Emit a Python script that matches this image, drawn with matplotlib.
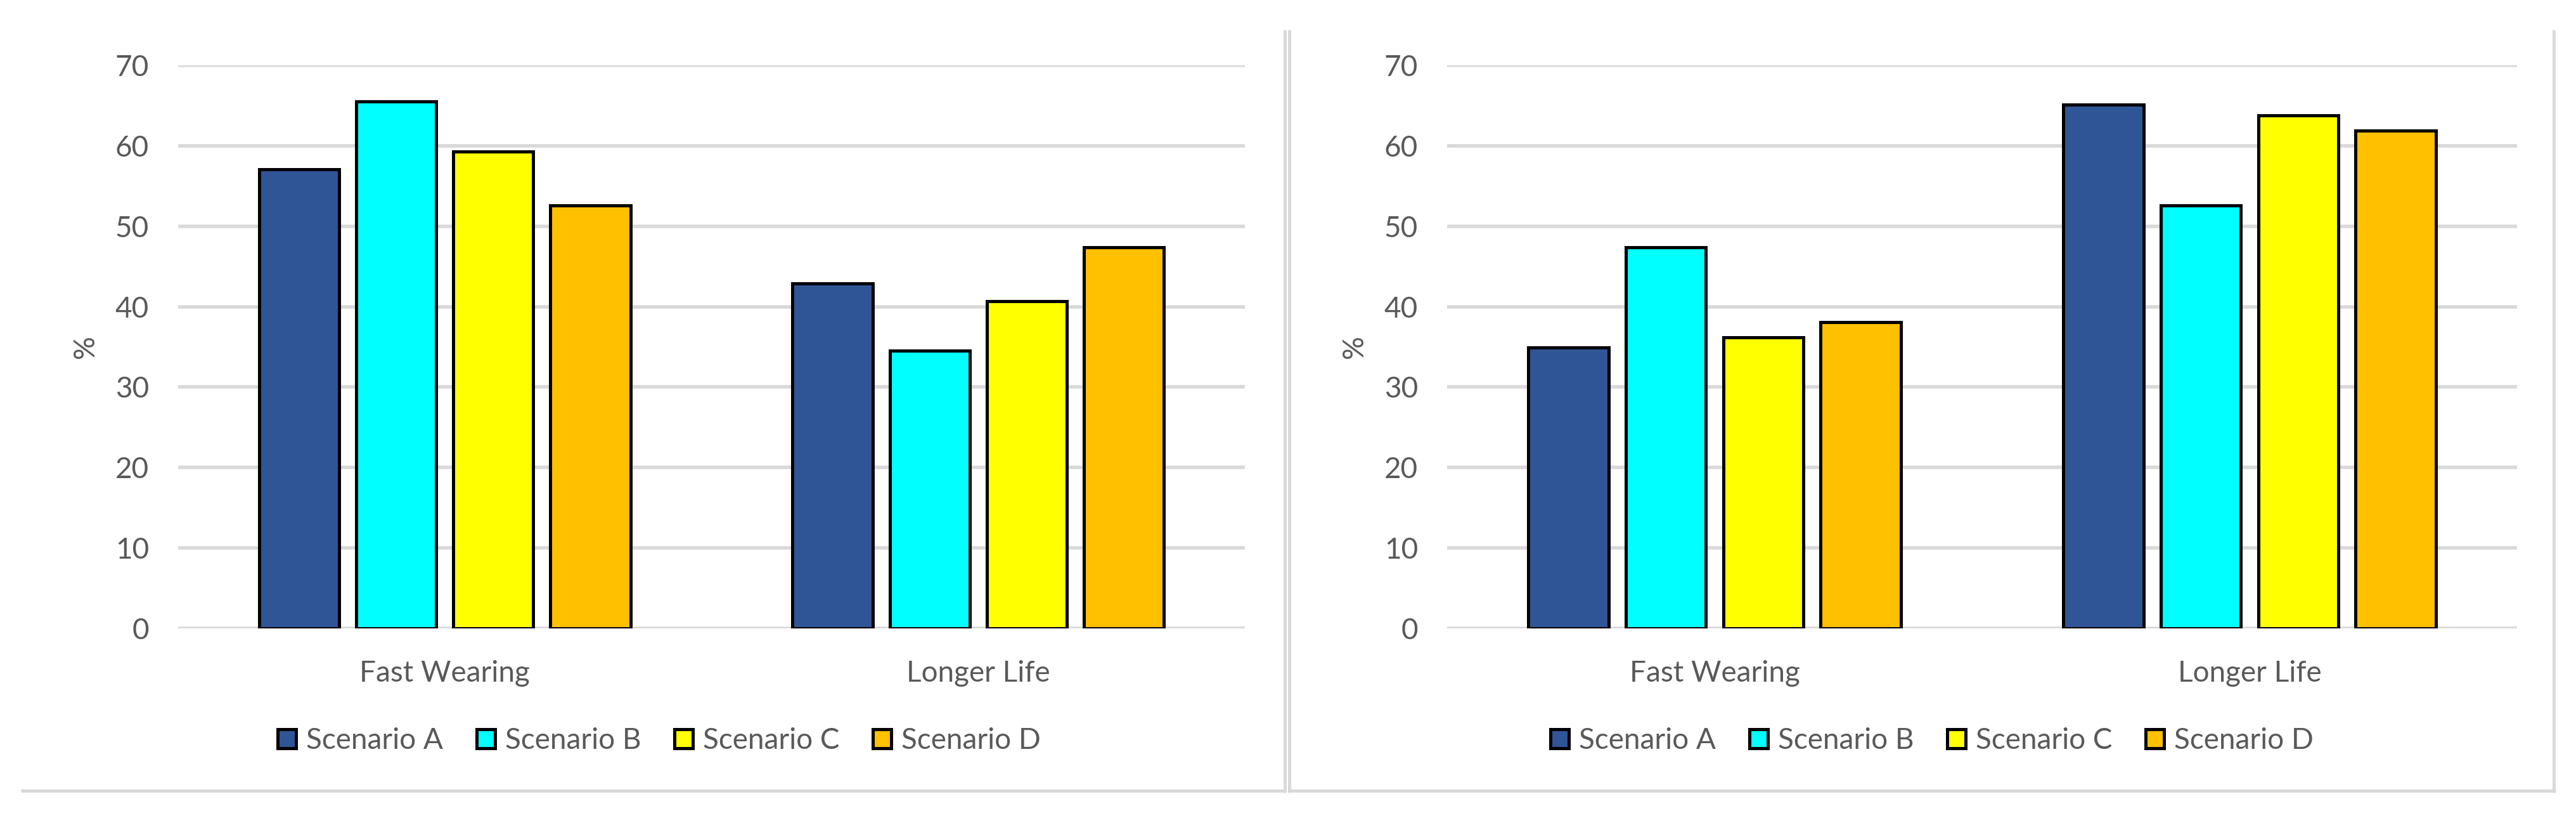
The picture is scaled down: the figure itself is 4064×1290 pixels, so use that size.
import matplotlib
matplotlib.use("Agg")
import matplotlib.pyplot as plt
import numpy as np
from matplotlib.lines import Line2D

plt.rcParams['font.family'] = ['Lato', 'DejaVu Sans']

# data (percent)
categories = ["Fast Wearing", "Longer Life"]
scenarios = ["Scenario A", "Scenario B", "Scenario C", "Scenario D"]
colors = ["#2F5597", "#00FFFF", "#FFFF00", "#FFC000"]

left_a = [57.1, 42.9]
left_b = [65.5, 34.5]
left_c = [59.3, 40.7]
left_d = [52.6, 47.4]

right_a = [34.9, 65.1]
right_b = [47.4, 52.6]
right_c = [36.2, 63.8]
right_d = [38.1, 61.9]

W, H = 4064, 1290
fig = plt.figure(figsize=(W / 100, H / 100), dpi=100)

txt_col = "#595959"
grid_col = "#D9D9D9"
fs = 33


def px(x, y):
    return x / W, 1 - y / H


def draw_panel(ax, series):
    x = np.arange(len(categories))
    width = 0.15
    step = 0.182
    for i, (vals, col, name) in enumerate(zip(series, colors, scenarios)):
        off = (i - 1.5) * step
        ax.bar(x + off, vals, width, color=col, edgecolor="black",
               linewidth=3.6, label=name, zorder=3)
    ax.set_xlim(-0.5, 1.5)
    ax.set_ylim(0, 70)
    ax.set_yticks(range(0, 71, 10))
    ax.set_xticks(x)
    ax.set_xticklabels(categories)
    ax.tick_params(axis="both", length=0, labelsize=fs, labelcolor=txt_col)
    ax.tick_params(axis="y", pad=33)
    ax.tick_params(axis="x", pad=36)
    ax.grid(axis="y", color=grid_col, linewidth=4)
    ax.set_axisbelow(True)
    for s in ax.spines.values():
        s.set_visible(False)
    ax.set_ylabel("%", fontsize=fs, color=txt_col)
    ax.yaxis.set_label_coords(-0.074, 0.5)


ax1 = fig.add_axes([281 / W, 1 - 991 / H, 1683 / W, 888 / H])
ax2 = fig.add_axes([2283 / W, 1 - 991 / H, 1688 / W, 888 / H])
draw_panel(ax1, [left_a, left_b, left_c, left_d])
draw_panel(ax2, [right_a, right_b, right_c, right_d])

for ax, cx in [(ax1, 1040), (ax2, 3048)]:
    h, l = ax.get_legend_handles_labels()
    leg = fig.legend(h, l, loc="center", bbox_to_anchor=px(cx, 1168),
                     ncol=4, frameon=False, fontsize=fs,
                     handlelength=0.63, handleheight=0.65,
                     handletextpad=0.35, columnspacing=1.15, borderpad=0)
    for t in leg.get_texts():
        t.set_color(txt_col)

# panel borders (right and bottom edges only)
border = dict(color=grid_col, linewidth=3.6, solid_capstyle="butt")
fig.add_artist(Line2D(*zip(px(2026.5, 47), px(2026.5, 1250)), **border))
fig.add_artist(Line2D(*zip(px(33, 1247), px(2029, 1247)), **border))
fig.add_artist(Line2D(*zip(px(2034, 47), px(2034, 1250)), **border))
fig.add_artist(Line2D(*zip(px(4029, 47), px(4029, 1250)), **border))
fig.add_artist(Line2D(*zip(px(2032, 1247), px(4032, 1247)), **border))

fig.savefig("out.png", dpi=100, facecolor="white")
